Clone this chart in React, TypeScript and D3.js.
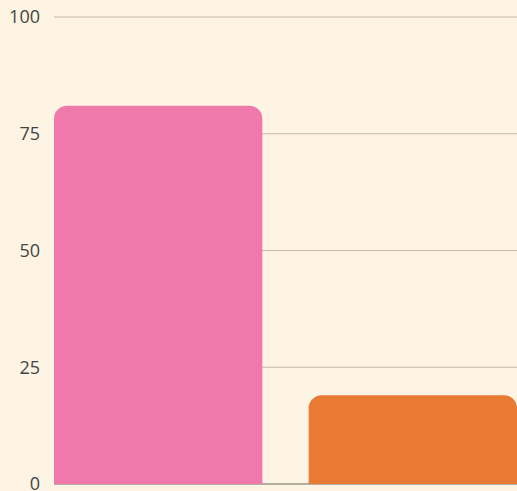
import { useEffect, useRef } from 'react';
import * as d3 from 'd3';

const categories = ['A', 'B'];
const values = [81, 19];
const barColors = ['#ef79ab', '#e87a33'];
const yTicks = [0, 25, 50, 75, 100];

export default function App() {
  const svgRef = useRef<SVGSVGElement>(null);

  useEffect(() => {
    const svg = d3.select(svgRef.current);
    svg.selectAll('*').remove();

    const width = 517;
    const height = 491;
    const margin = { top: 17, right: 0, bottom: 7, left: 54 };

    svg.attr('viewBox', `0 0 ${width} ${height}`);

    svg.append('rect')
      .attr('width', width)
      .attr('height', height)
      .attr('fill', '#fef4e3');

    const x = d3.scaleBand()
      .domain(categories)
      .range([margin.left, width - margin.right])
      .paddingInner(0.182)
      .paddingOuter(0);

    const y = d3.scaleLinear()
      .domain([0, 100])
      .range([height - margin.bottom, margin.top]);

    // gridlines
    svg.append('g')
      .selectAll('line')
      .data(yTicks.filter(t => t > 0))
      .join('line')
      .attr('x1', margin.left)
      .attr('x2', width)
      .attr('y1', d => y(d))
      .attr('y2', d => y(d))
      .attr('stroke', '#c2b9a9')
      .attr('stroke-width', 1.2);

    // baseline
    svg.append('line')
      .attr('x1', margin.left)
      .attr('x2', width)
      .attr('y1', y(0))
      .attr('y2', y(0))
      .attr('stroke', '#6b6660')
      .attr('stroke-width', 1.2);

    const r = 13;
    const barPath = (x0: number, w: number, top: number, bottom: number) => {
      const p = d3.path();
      p.moveTo(x0, bottom);
      p.lineTo(x0, top + r);
      p.arcTo(x0, top, x0 + r, top, r);
      p.lineTo(x0 + w - r, top);
      p.arcTo(x0 + w, top, x0 + w, top + r, r);
      p.lineTo(x0 + w, bottom);
      p.closePath();
      return p.toString();
    };

    svg.append('g')
      .selectAll('path')
      .data(categories)
      .join('path')
      .attr('d', (c, i) => barPath(x(c)!, x.bandwidth(), y(values[i]), y(0)))
      .attr('fill', (_, i) => barColors[i]);

    svg.append('g')
      .selectAll('text')
      .data(yTicks)
      .join('text')
      .attr('x', 40)
      .attr('y', d => y(d))
      .attr('dy', '0.35em')
      .attr('text-anchor', 'end')
      .attr('font-family', '"Open Sans", sans-serif')
      .attr('font-size', 18)
      .attr('fill', '#444')
      .text(d => d);
  }, []);

  return (
    <div style={{ position: 'fixed', left: 0, top: 0, width: 517, height: 491, overflow: 'hidden' }}>
      <svg ref={svgRef} width={517} height={491} style={{ display: 'block' }} />
    </div>
  );
}
